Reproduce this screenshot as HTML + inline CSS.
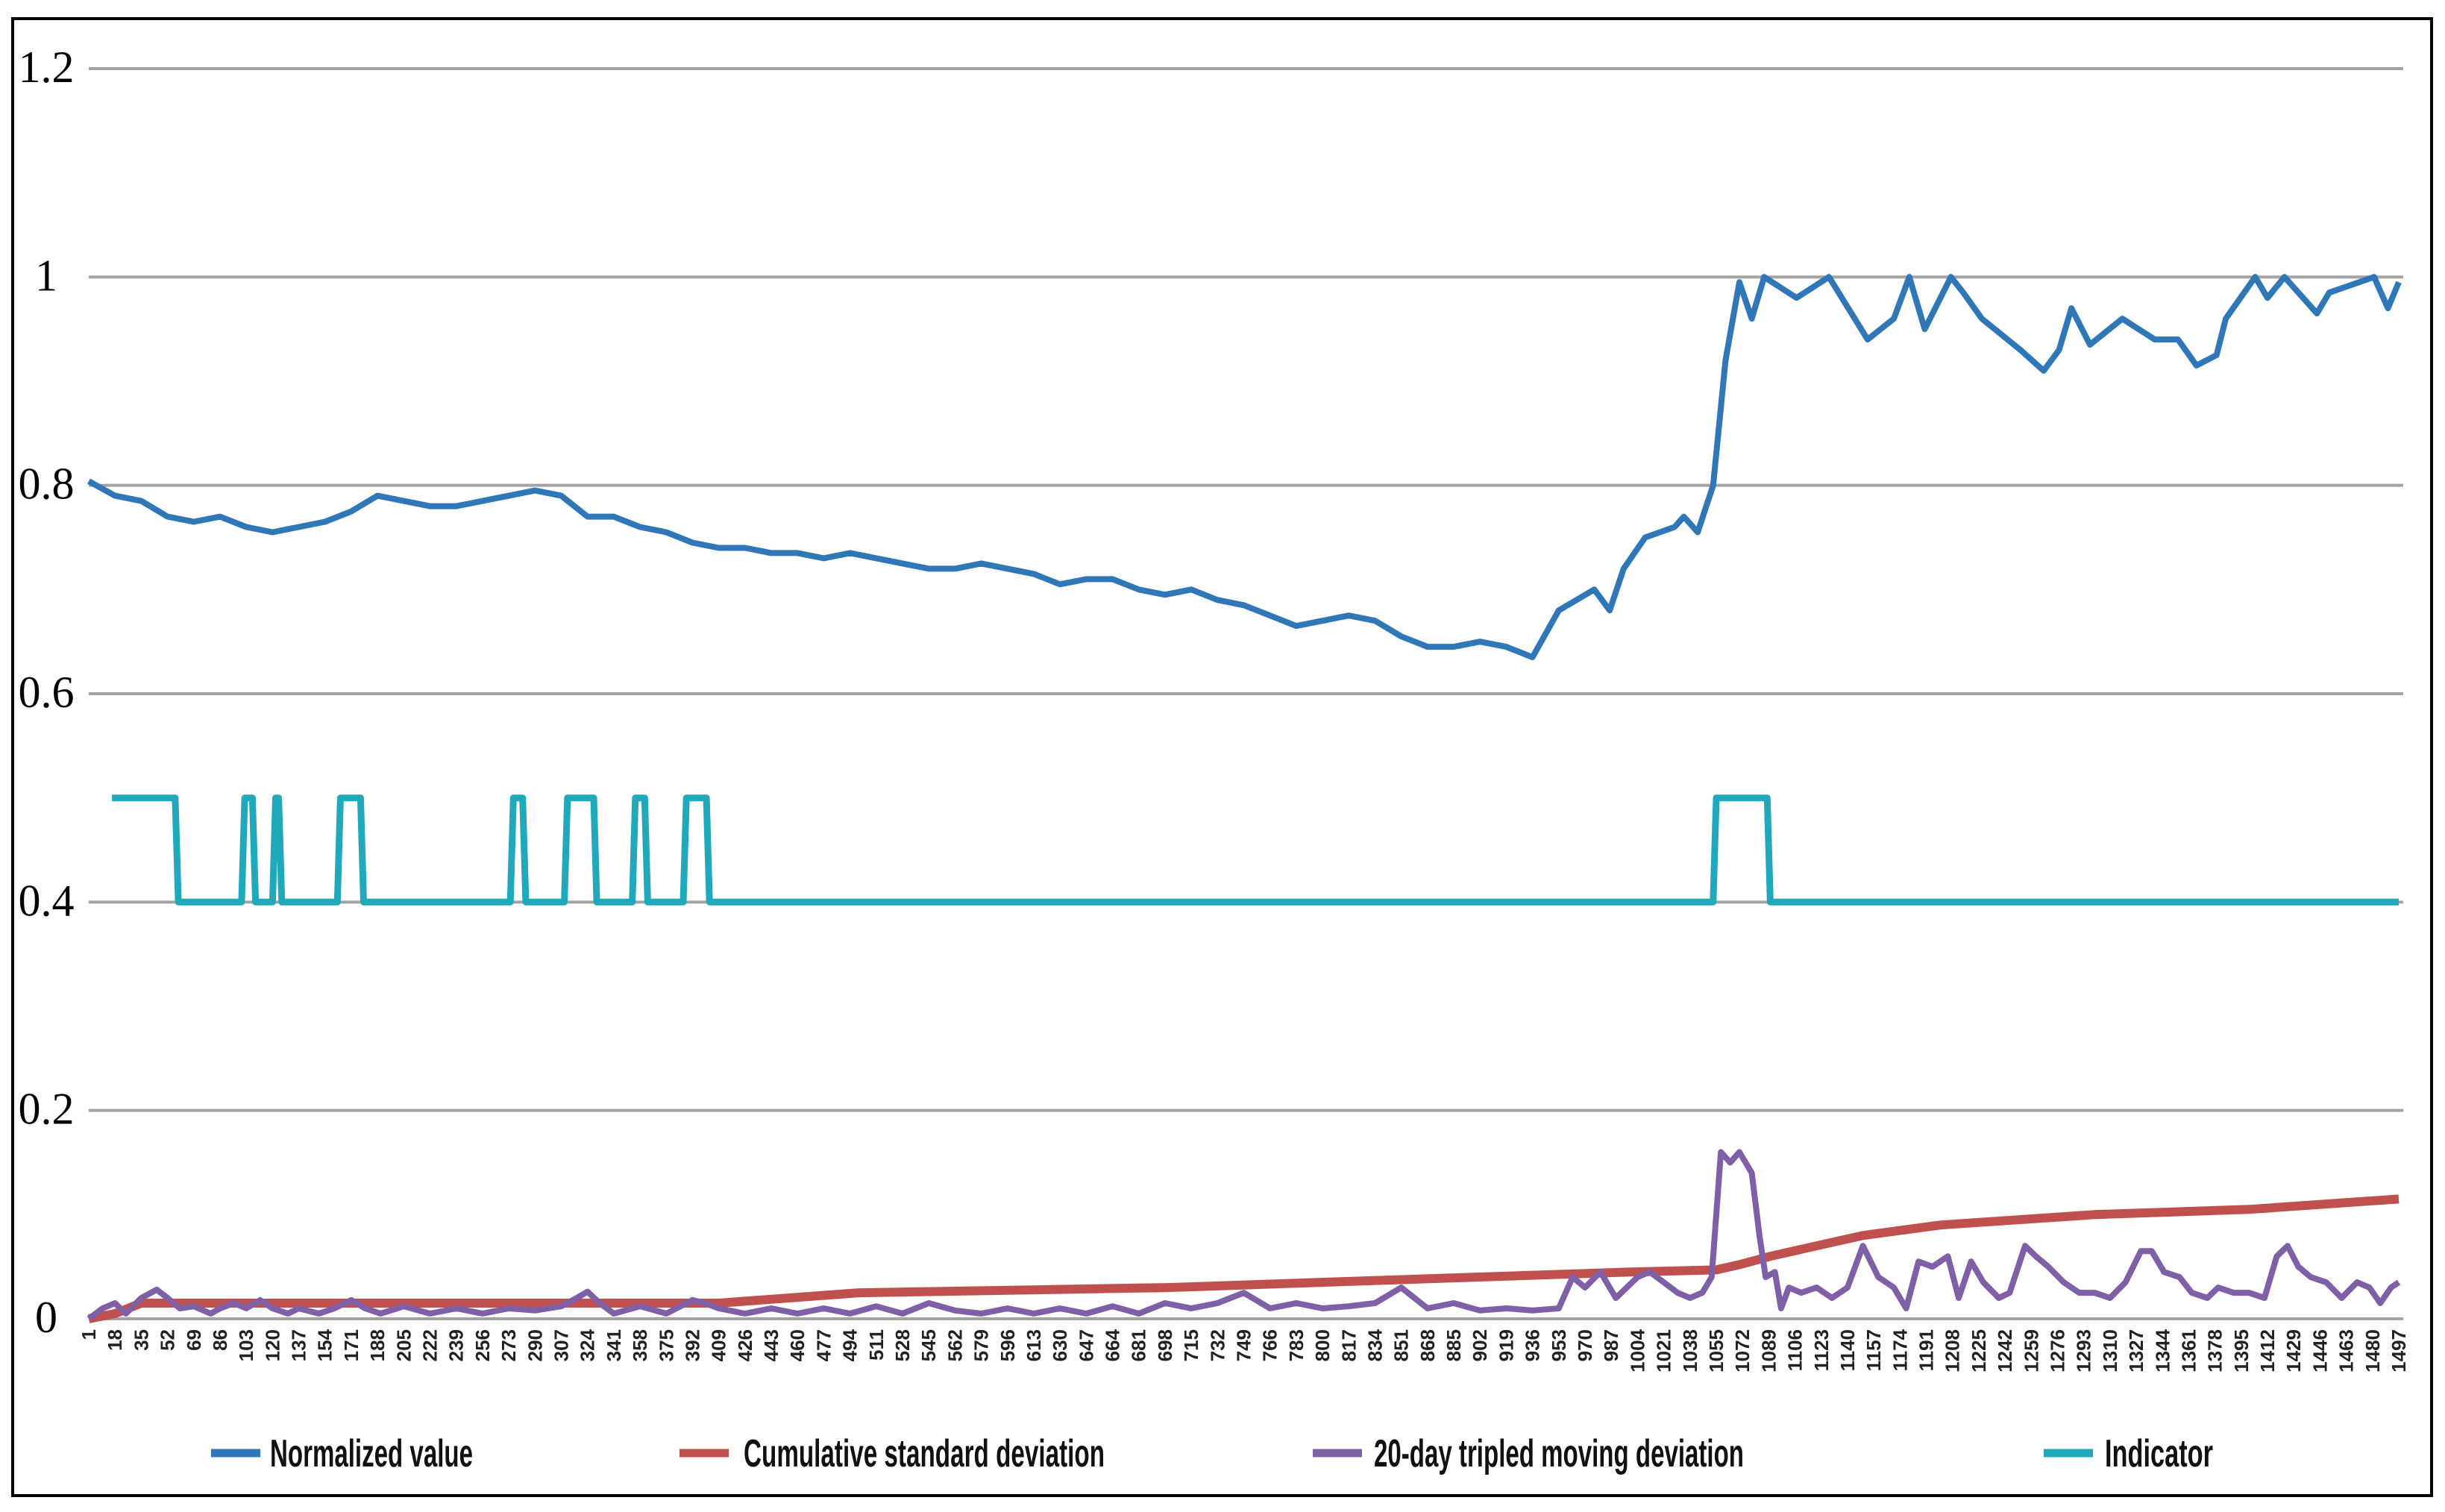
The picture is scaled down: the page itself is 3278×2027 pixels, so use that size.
<!DOCTYPE html>
<html><head><meta charset="utf-8">
<style>
html,body{margin:0;padding:0;background:#fff;}
svg{display:block;}
</style></head>
<body>
<svg id="chart" width="3278" height="2027" viewBox="0 0 3278 2027" xmlns="http://www.w3.org/2000/svg">
<rect x="17" y="25" width="3243" height="1980" fill="#fff" stroke="#000" stroke-width="4"/>
<g id="grid"></g>
<g id="ylabels"></g>
<g id="xlabels"></g>
<g id="series"></g>
<g id="legend"></g>
</svg>
<script>
const yTicks = [0, 0.2, 0.4, 0.6, 0.8, 1, 1.2];
const yTickLabels = ["0", "0.2", "0.4", "0.6", "0.8", "1", "1.2"];
const xFirst = 1, xLast = 1497, xStep = 17;

const normIdx = [1,18,35,52,69,86,103,120,137,154,171,188,205,222,239,256,273,290,307,324,341,358,375,392,409,426,443,460,477,494,511,528,545,562,579,596,613,630,647,664,681,698,715,732,749,766,783,800,817,834,851,868,885,902,919,936,953,976,986,995,1009,1028,1034,1043,1053,1061,1070,1078,1086,1107,1128,1153,1170,1180,1190,1207,1215,1227,1252,1267,1277,1285,1297,1318,1339,1354,1366,1379,1385,1404,1412,1423,1444,1452,1481,1490,1497];
const normVal = [0.804,0.79,0.785,0.77,0.765,0.77,0.76,0.755,0.76,0.765,0.775,0.79,0.785,0.78,0.78,0.785,0.79,0.795,0.79,0.77,0.77,0.76,0.755,0.745,0.74,0.74,0.735,0.735,0.73,0.735,0.73,0.725,0.72,0.72,0.725,0.72,0.715,0.705,0.71,0.71,0.70,0.695,0.70,0.69,0.685,0.675,0.665,0.67,0.675,0.67,0.655,0.645,0.645,0.65,0.645,0.635,0.68,0.70,0.68,0.72,0.75,0.76,0.77,0.755,0.80,0.92,0.995,0.96,1.0,0.98,1.0,0.94,0.96,1.0,0.95,1.0,0.985,0.96,0.93,0.91,0.93,0.97,0.935,0.96,0.94,0.94,0.915,0.925,0.96,1.0,0.98,1.0,0.965,0.985,1.0,0.97,0.995];

const cumIdx = [1,18,35,100,409,500,700,900,1000,1055,1070,1090,1120,1150,1200,1250,1300,1400,1497];
const cumVal = [0,0.005,0.015,0.015,0.015,0.025,0.03,0.04,0.045,0.047,0.052,0.06,0.07,0.08,0.09,0.095,0.1,0.105,0.115];

const devIdx = [1,10,18,25,35,45,52,60,69,80,86,95,103,112,120,130,137,150,160,171,180,190,205,222,239,256,273,290,307,317,324,332,341,358,375,392,400,409,426,443,460,477,494,511,528,545,562,579,596,613,630,647,664,681,698,715,732,749,766,783,800,817,834,851,868,885,902,919,936,953,962,970,980,990,1004,1012,1021,1030,1038,1046,1052,1058,1064,1070,1078,1083,1087,1093,1097,1102,1110,1120,1130,1140,1150,1160,1170,1178,1186,1195,1205,1212,1220,1228,1238,1245,1255,1262,1270,1280,1290,1300,1310,1320,1330,1337,1345,1355,1363,1373,1380,1390,1400,1410,1418,1425,1432,1440,1450,1460,1470,1478,1485,1492,1497];
const devVal = [0,0.01,0.015,0.005,0.02,0.028,0.02,0.01,0.012,0.005,0.01,0.015,0.01,0.018,0.01,0.005,0.01,0.005,0.01,0.018,0.01,0.005,0.012,0.005,0.01,0.005,0.01,0.008,0.012,0.02,0.026,0.015,0.005,0.012,0.005,0.018,0.015,0.01,0.005,0.01,0.005,0.01,0.005,0.012,0.005,0.015,0.008,0.005,0.01,0.005,0.01,0.005,0.012,0.005,0.015,0.01,0.015,0.025,0.01,0.015,0.01,0.012,0.015,0.03,0.01,0.015,0.008,0.01,0.008,0.01,0.04,0.03,0.045,0.02,0.04,0.045,0.035,0.025,0.02,0.025,0.04,0.16,0.15,0.16,0.14,0.08,0.04,0.045,0.01,0.03,0.025,0.03,0.02,0.03,0.07,0.04,0.03,0.01,0.055,0.05,0.06,0.02,0.055,0.035,0.02,0.025,0.07,0.06,0.05,0.035,0.025,0.025,0.02,0.035,0.065,0.065,0.045,0.04,0.025,0.02,0.03,0.025,0.025,0.02,0.06,0.07,0.05,0.04,0.035,0.02,0.035,0.03,0.015,0.03,0.035];

const indStart = [16,101,121,163,275,310,354,387,1054];
const indEnd = [58,108,125,178,283,329,362,402,1089];
const indHigh = 0.5, indLow = 0.4;

const legendLabels = ["Normalized value","Cumulative standard deviation","20-day tripled moving deviation","Indicator"];

const NS = "http://www.w3.org/2000/svg";
const X0 = 119, X1 = 3216, Y0 = 1768, YTOP = 92;
function xs(i){ return X0 + (i - xFirst) / (xLast - xFirst) * (X1 - X0); }
function ys(v){ return Y0 - v / 1.2 * (Y0 - YTOP); }
function mk(tag, attrs, parent){ const e = document.createElementNS(NS, tag); for (const k in attrs) e.setAttribute(k, attrs[k]); parent.appendChild(e); return e; }

const grid = document.getElementById('grid');
const ylab = document.getElementById('ylabels');
yTicks.forEach((t, k) => {
  const l = mk('line', {x1: X0, x2: 3222, y1: ys(t), y2: ys(t), stroke: '#a3a3a3', 'stroke-width': 4}, grid);
  
  
  const tx = mk('text', {x: 62, y: ys(t) + 18, 'text-anchor': 'middle', 'font-family': '"Liberation Serif", serif', 'font-size': 60, fill: '#000'}, ylab);
  tx.textContent = yTickLabels[k];
  
  
});

const xlab = document.getElementById('xlabels');
for (let v = xFirst; v <= xLast; v += xStep) {
  const x = xs(v);
  const tx = mk('text', {transform: 'translate(' + (x + 9) + ',1782) rotate(-90)', 'text-anchor': 'end', 'font-family': '"Liberation Sans Narrow","Liberation Sans",sans-serif', 'font-size': 26, 'font-weight': 'bold', fill: '#222'}, xlab);
  tx.textContent = String(v);
  
  
}

const ser = document.getElementById('series');
function poly(idx, vals, color, w, name){
  const pts = idx.map((i, k) => xs(i).toFixed(1) + ',' + ys(vals[k]).toFixed(1)).join(' ');
  const p = mk('polyline', {points: pts, fill: 'none', stroke: color, 'stroke-width': w, 'stroke-linejoin': 'round'}, ser);
  
  
}
const indI = [], indV = [];
indI.push(16); indV.push(indHigh);
for (let k = 0; k < indStart.length; k++) {
  if (k > 0) { indI.push(indStart[k] - 1, indStart[k] + 1); indV.push(indLow, indHigh); }
  indI.push(indEnd[k] - 1, indEnd[k] + 1); indV.push(indHigh, indLow);
}
indI.push(xLast); indV.push(indLow);
poly(indI, indV, '#1fa9bb', 9, 'indicator-line');
poly(cumIdx, cumVal, '#c0504d', 12, 'cumulative-std-line');
poly(devIdx, devVal, '#7f5fa5', 8, 'moving-deviation-line');
poly(normIdx, normVal, '#2f77b6', 8, 'normalized-value-line');

const leg = document.getElementById('legend');
const legColors = ['#2f77b6','#c0504d','#7f5fa5','#1fa9bb'];
const legSw = [283, 911, 1760, 2740];
const legTx = [362, 997, 1842, 2822];
const legW = [272, 484, 496, 145];
legendLabels.forEach((lab, k) => {
  const l = mk('line', {x1: legSw[k], x2: legSw[k] + 66, y1: 1948, y2: 1948, stroke: legColors[k], 'stroke-width': 11}, leg);
  
  
  const t = mk('text', {x: legTx[k], y: 1966, 'font-family': '"Liberation Sans Narrow","Liberation Sans",sans-serif', 'font-size': 52, 'font-weight': 'bold', fill: '#111', textLength: legW[k], lengthAdjust: 'spacingAndGlyphs'}, leg);
  t.textContent = lab;
  
  
});
</script>
</body></html>
